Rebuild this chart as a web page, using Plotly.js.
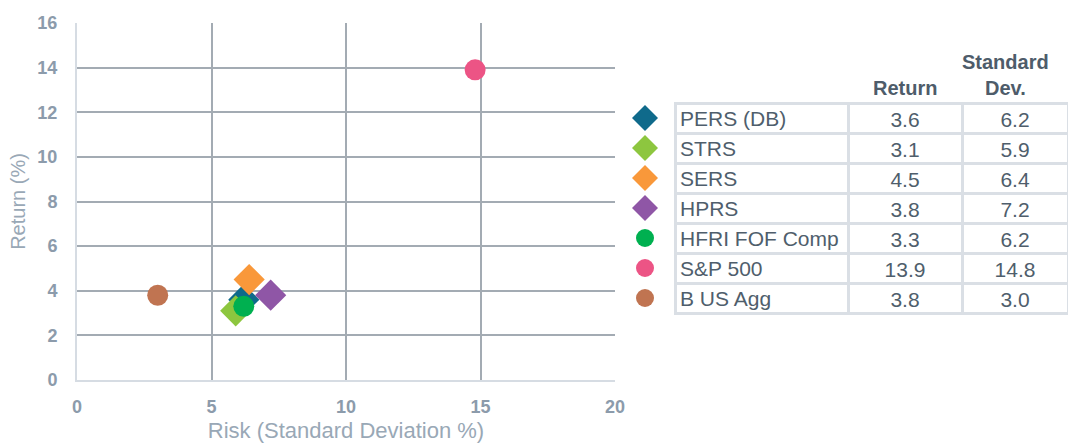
<!DOCTYPE html>
<html><head><meta charset="utf-8">
<script src="https://cdn.plot.ly/plotly-3.0.1.min.js"></script>
<style>html,body{margin:0;padding:0;background:#fff;}#chart{width:1068px;height:447px;}</style>
</head><body><div id="chart"></div>
<script>
const names = ["PERS (DB)", "STRS", "SERS", "HPRS", "HFRI FOF Comp", "S&P 500", "B US Agg"];
const returns = [3.6, 3.1, 4.5, 3.8, 3.3, 13.9, 3.8];
const stdDevs = [6.2, 5.9, 6.4, 7.2, 6.2, 14.8, 3.0];
const colors = ["#0f6a8b", "#8dc63f", "#f9983a", "#8f56a6", "#00b050", "#ec5485", "#c07451"];
const symbols = ["diamond", "diamond", "diamond", "diamond", "circle", "circle", "circle"];
const headers = ["", "Return", "Standard<br>Dev."];

const FONT = "Liberation Sans, Arial, sans-serif";
const W = 1068, H = 447, ML = 77, MT = 23, MB = 67;
const paperW = W - ML, paperH = H - MT - MB;
const px = v => (v - ML) / paperW;
const py = v => (H - MB - v) / paperH;
const CLEAR = "rgba(0,0,0,0)";

const scatter = {
  type: "scatter", mode: "markers",
  x: stdDevs, y: returns, text: names,
  marker: {color: colors, symbol: symbols, opacity: 1, size: symbols.map(s => s === "diamond" ? 24 : 21), line: {width: 0}},
  xaxis: "x", yaxis: "y", showlegend: false, hoverinfo: "text+x+y"
};
const legendMarks = {
  type: "scatter", mode: "markers",
  x: names.map(() => 0), y: names,
  marker: {color: colors, symbol: symbols, opacity: 1, size: symbols.map(s => s === "diamond" ? 20 : 18), line: {width: 0}},
  xaxis: "x2", yaxis: "y2", showlegend: false, hoverinfo: "skip"
};
const nameColumn = {
  type: "scatter", mode: "text",
  x: names.map(() => 0), y: names, text: names,
  textposition: "middle right",
  textfont: {family: FONT, size: 21, color: "#4f5e6c"},
  xaxis: "x3", yaxis: "y3", showlegend: false, hoverinfo: "skip"
};
const table = {
  type: "table",
  domain: {x: [px(675), 1], y: [0, py(40)]},
  columnwidth: [173, 114, 106],
  header: {
    values: headers.map(() => ""),
    height: 63,
    fill: {color: CLEAR},
    line: {color: "#ffffff", width: 0},
    font: {family: FONT, size: 20, color: "#4e5c6a"}
  },
  cells: {
    values: [names.map(() => ""), returns.map(v => v.toFixed(1)), stdDevs.map(v => v.toFixed(1))],
    align: ["left", "center", "center"],
    height: 30,
    fill: {color: CLEAR},
    line: {color: "#dadfe5", width: 3},
    font: {family: FONT, size: 21, color: "#4f5e6c"}
  }
};

const colCenters = [761, 905, 1005];
const annotations = headers.map((h, i) => ({
  text: h, xref: "paper", yref: "paper", x: px(colCenters[i]), y: py(101),
  xanchor: "center", yanchor: "bottom", align: "center", showarrow: false,
  font: {family: FONT, size: 20, color: "#4e5c6a", weight: "bold"}
})).filter(a => a.text);

const layout = {
  width: W, height: H,
  margin: {l: ML, r: 0, t: MT, b: MB, pad: 0},
  paper_bgcolor: "#ffffff", plot_bgcolor: "#ffffff",
  font: {family: FONT},
  showlegend: false,
  annotations: annotations,
  xaxis: {
    domain: [0, (615 - ML) / paperW],
    range: [0, 20], dtick: 5, tick0: 0,
    showgrid: true, gridcolor: "#a3abb3", gridwidth: 2,
    zeroline: false, showline: true, linecolor: "#d6dce3", linewidth: 2,
    ticks: "", ticklabelstandoff: 9,
    tickfont: {family: FONT, size: 18, color: "#8c9bab", weight: "bold"},
    title: {text: "Risk (Standard Deviation %)", font: {family: FONT, size: 22, color: "#99a8b6"}, standoff: 7},
    fixedrange: true
  },
  yaxis: {
    domain: [0, 1],
    range: [0, 16], dtick: 2, tick0: 0,
    showgrid: true, gridcolor: "#a3abb3", gridwidth: 2,
    zeroline: false, showline: true, linecolor: "#d6dce3", linewidth: 2,
    ticks: "", ticklabelstandoff: 14,
    tickfont: {family: FONT, size: 18, color: "#8c9bab", weight: "bold"},
    title: {text: "Return (%)", font: {family: FONT, size: 20, color: "#99a8b6"}, standoff: 6},
    fixedrange: true
  },
  xaxis2: {domain: [px(625), px(665)], range: [-1, 1], visible: false, fixedrange: true},
  xaxis3: {domain: [px(680), px(848)], range: [0, 1], visible: false, fixedrange: true},
  yaxis2: {domain: [py(313), py(103)], type: "category", categoryorder: "array", categoryarray: names,
           range: [names.length - 0.5, -0.5], visible: false, fixedrange: true, anchor: "x2"},
  yaxis3: {domain: [py(316), py(106)], type: "category", categoryorder: "array", categoryarray: names,
           range: [names.length - 0.5, -0.5], visible: false, fixedrange: true, anchor: "x3"}
};

Plotly.newPlot("chart", [table, scatter, legendMarks, nameColumn], layout, {displayModeBar: false, staticPlot: true});
</script>
</body></html>
